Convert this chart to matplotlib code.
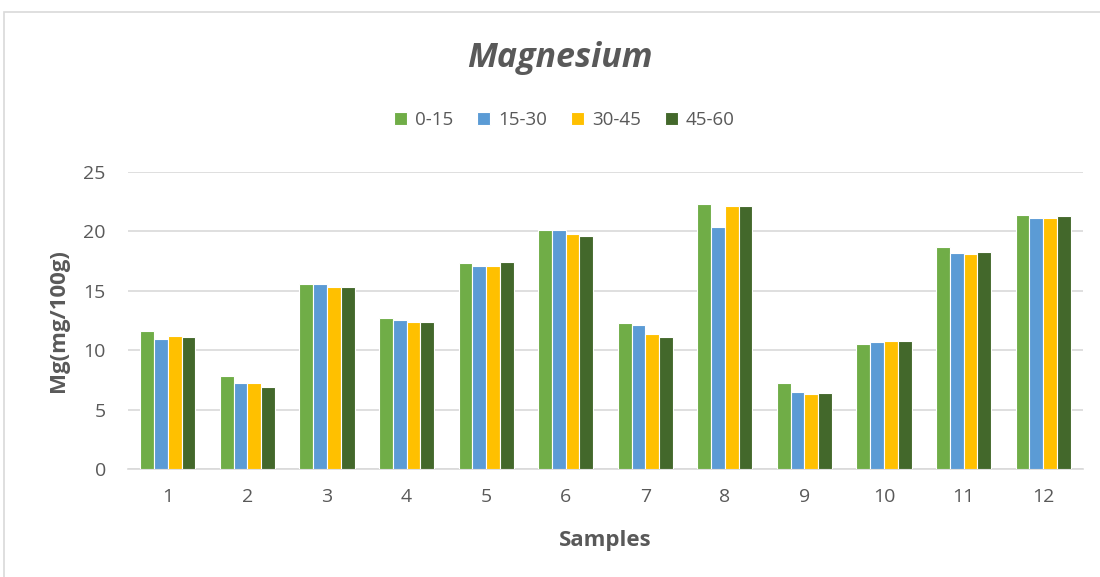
import numpy as np
import matplotlib
matplotlib.use("Agg")
import matplotlib.pyplot as plt
from matplotlib.patches import Rectangle

plt.rcParams['font.family'] = ['Open Sans', 'DejaVu Sans']

# values
samples = ['1', '2', '3', '4', '5', '6', '7', '8', '9', '10', '11', '12']
depth_0_15 = [11.6, 7.8, 15.6, 12.7, 17.3, 20.1, 12.3, 22.3, 7.2, 10.5, 18.7, 21.4]
depth_15_30 = [10.9, 7.2, 15.6, 12.5, 17.1, 20.1, 12.1, 20.4, 6.5, 10.7, 18.2, 21.1]
depth_30_45 = [11.2, 7.2, 15.3, 12.4, 17.1, 19.8, 11.4, 22.1, 6.3, 10.8, 18.1, 21.1]
depth_45_60 = [11.1, 6.9, 15.3, 12.4, 17.4, 19.6, 11.1, 22.1, 6.4, 10.8, 18.3, 21.3]
series_names = ['0-15', '15-30', '30-45', '45-60']
colors = ['#70AD47', '#5B9BD5', '#FFC000', '#43682B']

text_col = '#595959'
grid_col = '#D9D9D9'

fig = plt.figure(figsize=(11, 5.77), dpi=100)
ax = fig.add_axes([0.1164, 0.1872, 0.8681, 0.5148])

# light border around the chart area
fig.patches.append(Rectangle((4 / 1100, -0.05), 1.1, 1.05 - 12 / 577,
                             transform=fig.transFigure, fill=False,
                             edgecolor=grid_col, linewidth=1.2))

x = np.arange(len(samples))
w = 0.173
all_series = [depth_0_15, depth_15_30, depth_30_45, depth_45_60]
for i, (vals, name, c) in enumerate(zip(all_series, series_names, colors)):
    ax.bar(x + (i - 1.5) * w, vals, width=w, color=c, edgecolor='white',
           linewidth=0.8, label=name, zorder=3)

ax.set_xlim(-0.5, len(samples) - 0.5)
ax.set_ylim(0, 25)
ax.set_yticks([0, 5, 10, 15, 20, 25])
ax.set_xticks(x)
ax.set_xticklabels(samples)
ax.yaxis.grid(True, color=grid_col, linewidth=1.2, zorder=0)
ax.set_axisbelow(True)
for s in ['top', 'right', 'left']:
    ax.spines[s].set_visible(False)
ax.spines['bottom'].set_color(grid_col)
ax.spines['bottom'].set_linewidth(1.2)
ax.tick_params(axis='both', length=0, labelsize=14, colors=text_col)
ax.tick_params(axis='x', pad=14)
ax.tick_params(axis='y', pad=16)

ax.set_xlabel('Samples', fontsize=16, fontweight='bold', color=text_col, labelpad=17)
ax.set_ylabel('Mg(mg/100g)', fontsize=16, fontweight='bold', color=text_col, labelpad=10)

fig.text(0.509, 0.9, 'Magnesium', ha='center', va='center', fontsize=24.5,
         fontweight='bold', fontstyle='italic', color=text_col)

leg = fig.legend(loc='center', bbox_to_anchor=(0.513, 0.792), ncol=4, frameon=False,
                 fontsize=13.5, handlelength=0.7, handleheight=0.7, handletextpad=0.4,
                 columnspacing=1.3, labelcolor=text_col)

fig.savefig('out.png', dpi=100)
